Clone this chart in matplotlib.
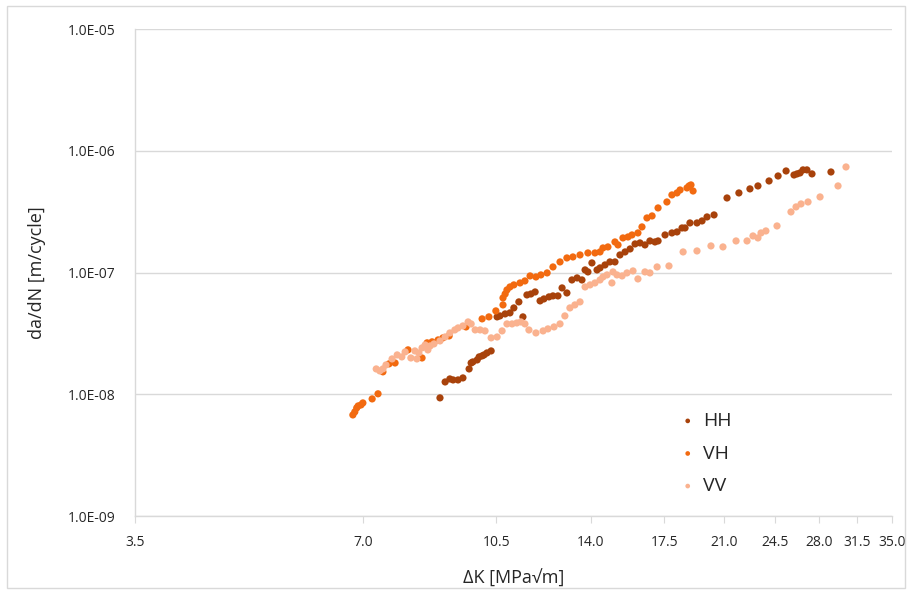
import matplotlib
matplotlib.use("Agg")
import matplotlib.pyplot as plt
from matplotlib.ticker import FixedLocator, NullLocator, FixedFormatter
from matplotlib.patches import Rectangle

# Delta K [MPa sqrt(m)] and da/dN [m/cycle]
hh_dk = [8.85, 8.99, 9.12, 9.21, 9.35, 9.49, 9.67, 9.73, 9.78, 9.91, 9.97, 10.06, 10.12,
         10.21, 10.34, 10.53, 10.62, 10.79, 10.95, 11.08, 11.25, 11.39, 11.53, 11.67,
         11.82, 12.00, 12.14, 12.33, 12.48, 12.67, 12.83, 13.02, 13.22, 13.43, 13.63,
         13.76, 13.88, 14.05, 14.27, 14.40, 14.62, 14.84, 15.07, 15.30, 15.54, 15.78,
         16.02, 16.26, 16.51, 16.76, 17.02, 17.18, 17.55, 17.92, 18.20, 18.48, 18.65,
         18.93, 19.34, 19.64, 19.94, 20.37, 21.19, 21.97, 22.72, 23.28, 24.08, 24.75,
         25.36, 25.98, 26.22, 26.46, 26.70, 27.02, 27.44, 29.07]
hh_dadn = [9.35e-9, 1.264e-8, 1.338e-8, 1.313e-8, 1.313e-8, 1.364e-8, 1.617e-8, 1.811e-8,
           1.846e-8, 1.917e-8, 2.030e-8, 2.069e-8, 2.108e-8, 2.189e-8, 2.273e-8, 4.33e-8,
           4.41e-8, 4.58e-8, 4.67e-8, 5.13e-8, 5.75e-8, 4.33e-8, 6.56e-8, 6.68e-8, 6.94e-8,
           5.86e-8, 6.08e-8, 6.32e-8, 6.44e-8, 6.44e-8, 7.49e-8, 6.81e-8, 8.71e-8, 9.05e-8,
           8.71e-8, 1.053e-7, 1.014e-7, 1.202e-7, 1.053e-7, 1.094e-7, 1.157e-7, 1.225e-7,
           1.225e-7, 1.398e-7, 1.480e-7, 1.566e-7, 1.722e-7, 1.755e-7, 1.690e-7, 1.822e-7,
           1.788e-7, 1.822e-7, 2.041e-7, 2.120e-7, 2.161e-7, 2.330e-7, 2.330e-7, 2.562e-7,
           2.562e-7, 2.661e-7, 2.870e-7, 2.981e-7, 4.11e-7, 4.52e-7, 4.88e-7, 5.16e-7,
           5.67e-7, 6.23e-7, 6.85e-7, 6.35e-7, 6.48e-7, 6.60e-7, 6.99e-7, 6.99e-7, 6.48e-7,
           6.72e-7]

vh_dk = [6.79, 6.83, 6.87, 6.90, 6.96, 7.00, 7.20, 7.33, 7.44, 7.58, 7.72, 8.03, 8.38,
         8.51, 8.64, 8.80, 8.93, 9.10, 9.58, 10.06, 10.27, 10.49, 10.72, 10.72, 10.79,
         10.85, 10.95, 11.08, 11.29, 11.46, 11.64, 11.85, 12.03, 12.26, 12.48, 12.75,
         13.02, 13.26, 13.55, 13.88, 14.18, 14.40, 14.53, 14.75, 15.07, 15.21, 15.44,
         15.68, 15.87, 16.16, 16.36, 16.61, 16.87, 17.18, 17.65, 17.92, 18.20, 18.37,
         18.76, 18.88, 18.99, 19.11]
vh_dadn = [6.77e-9, 7.17e-9, 7.73e-9, 8.03e-9, 8.18e-9, 8.50e-9, 9.17e-9, 1.01e-8, 1.53e-8,
           1.78e-8, 1.81e-8, 2.32e-8, 1.99e-8, 2.65e-8, 2.70e-8, 2.80e-8, 2.91e-8, 3.02e-8,
           3.58e-8, 4.17e-8, 4.33e-8, 4.85e-8, 5.43e-8, 6.20e-8, 6.68e-8, 7.21e-8, 7.63e-8,
           7.93e-8, 8.23e-8, 8.55e-8, 9.40e-8, 9.22e-8, 9.58e-8, 9.95e-8, 1.114e-7,
           1.225e-7, 1.321e-7, 1.346e-7, 1.398e-7, 1.452e-7, 1.452e-7, 1.480e-7, 1.596e-7,
           1.627e-7, 1.788e-7, 1.690e-7, 1.929e-7, 1.965e-7, 2.041e-7, 2.120e-7, 2.376e-7,
           2.816e-7, 2.925e-7, 3.403e-7, 3.81e-7, 4.352e-7, 4.52e-7, 4.78e-7, 4.97e-7,
           5.16e-7, 5.26e-7, 4.69e-7]

vv_dk = [7.29, 7.37, 7.44, 7.51, 7.65, 7.77, 7.88, 7.96, 8.10, 8.20, 8.25, 8.30, 8.38,
         8.46, 8.53, 8.59, 8.69, 8.85, 8.99, 9.12, 9.26, 9.35, 9.49, 9.64, 9.73, 9.85,
         10.00, 10.15, 10.34, 10.53, 10.69, 10.85, 11.02, 11.18, 11.32, 11.46, 11.60,
         11.85, 12.11, 12.29, 12.52, 12.75, 12.94, 13.14, 13.34, 13.55, 13.76, 13.97,
         14.18, 14.40, 14.53, 14.71, 14.93, 14.98, 15.16, 15.40, 15.63, 15.92, 16.16,
         16.51, 16.76, 17.13, 17.76, 18.54, 19.34, 20.18, 20.93, 21.78, 22.52, 22.93,
         23.28, 23.50, 23.85, 24.67, 25.74, 26.14, 26.54, 27.11, 28.12, 29.70, 30.43]
vv_dadn = [1.617e-8, 1.557e-8, 1.617e-8, 1.744e-8, 1.954e-8, 2.108e-8, 2.030e-8, 2.231e-8,
           1.99e-8, 2.273e-8, 1.954e-8, 2.189e-8, 2.406e-8, 2.547e-8, 2.317e-8, 2.499e-8,
           2.596e-8, 2.747e-8, 2.963e-8, 3.195e-8, 3.383e-8, 3.513e-8, 3.648e-8, 3.935e-8,
           3.789e-8, 3.383e-8, 3.383e-8, 3.32e-8, 2.91e-8, 2.96e-8, 3.32e-8, 3.79e-8,
           3.79e-8, 3.86e-8, 3.935e-8, 3.79e-8, 3.38e-8, 3.195e-8, 3.32e-8, 3.45e-8,
           3.58e-8, 3.79e-8, 4.41e-8, 5.13e-8, 5.43e-8, 5.75e-8, 7.63e-8, 7.93e-8, 8.23e-8,
           8.71e-8, 9.22e-8, 9.58e-8, 8.23e-8, 1.014e-7, 9.58e-8, 9.40e-8, 9.95e-8,
           1.033e-7, 8.88e-8, 1.014e-7, 9.95e-8, 1.114e-7, 1.135e-7, 1.480e-7, 1.508e-7,
           1.658e-7, 1.627e-7, 1.822e-7, 1.822e-7, 2.003e-7, 1.929e-7, 2.120e-7, 2.202e-7,
           2.42e-7, 3.155e-7, 3.47e-7, 3.67e-7, 3.81e-7, 4.19e-7, 5.16e-7, 7.39e-7]

x_ticks = [3.5, 7.0, 10.5, 14.0, 17.5, 21.0, 24.5, 28.0, 31.5, 35.0]
y_ticks = [1e-9, 1e-8, 1e-7, 1e-6, 1e-5]
y_labels = ["1.0E-09", "1.0E-08", "1.0E-07", "1.0E-06", "1.0E-05"]

series = [("HH", hh_dk, hh_dadn, "#A8420B"),
          ("VH", vh_dk, vh_dadn, "#F26A10"),
          ("VV", vv_dk, vv_dadn, "#FAB28F")]

text_col = '#262626'
plt.rcParams['font.family'] = ['Open Sans', 'DejaVu Sans']

fig = plt.figure(figsize=(9.08, 5.9), dpi=100)
ax = fig.add_axes([135 / 908, 1 - 516 / 590, (892 - 135) / 908, (516 - 29.3) / 590])

for name, dk, dadn, col in series:
    ax.scatter(dk, dadn, s=27, color=col, edgecolors='none', label=name, zorder=3)

ax.set_xscale('log')
ax.set_yscale('log')
ax.set_xlim(3.5, 35.0)
ax.set_ylim(1e-9, 1e-5)

ax.xaxis.set_major_locator(FixedLocator(x_ticks))
ax.xaxis.set_major_formatter(FixedFormatter(["%.1f" % v for v in x_ticks]))
ax.xaxis.set_minor_locator(NullLocator())
ax.yaxis.set_major_locator(FixedLocator(y_ticks))
ax.yaxis.set_major_formatter(FixedFormatter(y_labels))
ax.yaxis.set_minor_locator(NullLocator())

ax.grid(axis='y', color='#D9D9D9', linewidth=1.0)
ax.set_axisbelow(True)
for side in ['top', 'right']:
    ax.spines[side].set_visible(False)
for side in ['left', 'bottom']:
    ax.spines[side].set_color('#D9D9D9')
    ax.spines[side].set_linewidth(1.0)

ax.tick_params(axis='x', direction='out', length=5, color='#D9D9D9', pad=9,
               labelsize=10, labelcolor=text_col)
ax.tick_params(axis='y', length=0, pad=14, labelsize=10, labelcolor=text_col)

ax.set_xlabel("ΔK [MPa√m]", fontsize=13, color=text_col, labelpad=14)
ax.set_ylabel("da/dN [m/cycle]", fontsize=13, color=text_col, labelpad=16)

ax.legend(loc='upper left', bbox_to_anchor=(678 / 908, 1 - 412 / 590),
          bbox_transform=fig.transFigure, frameon=False, fontsize=14,
          markerscale=0.65, handlelength=1.0, handletextpad=0.3, labelspacing=0.75,
          borderaxespad=0, borderpad=0, labelcolor=text_col)

fig.patches.append(Rectangle((7 / 908, 2 / 590), 898 / 908, 582 / 590, transform=fig.transFigure,
                             fill=False, edgecolor='#D9D9D9', linewidth=1.0))

fig.savefig("out.png", dpi=100)
